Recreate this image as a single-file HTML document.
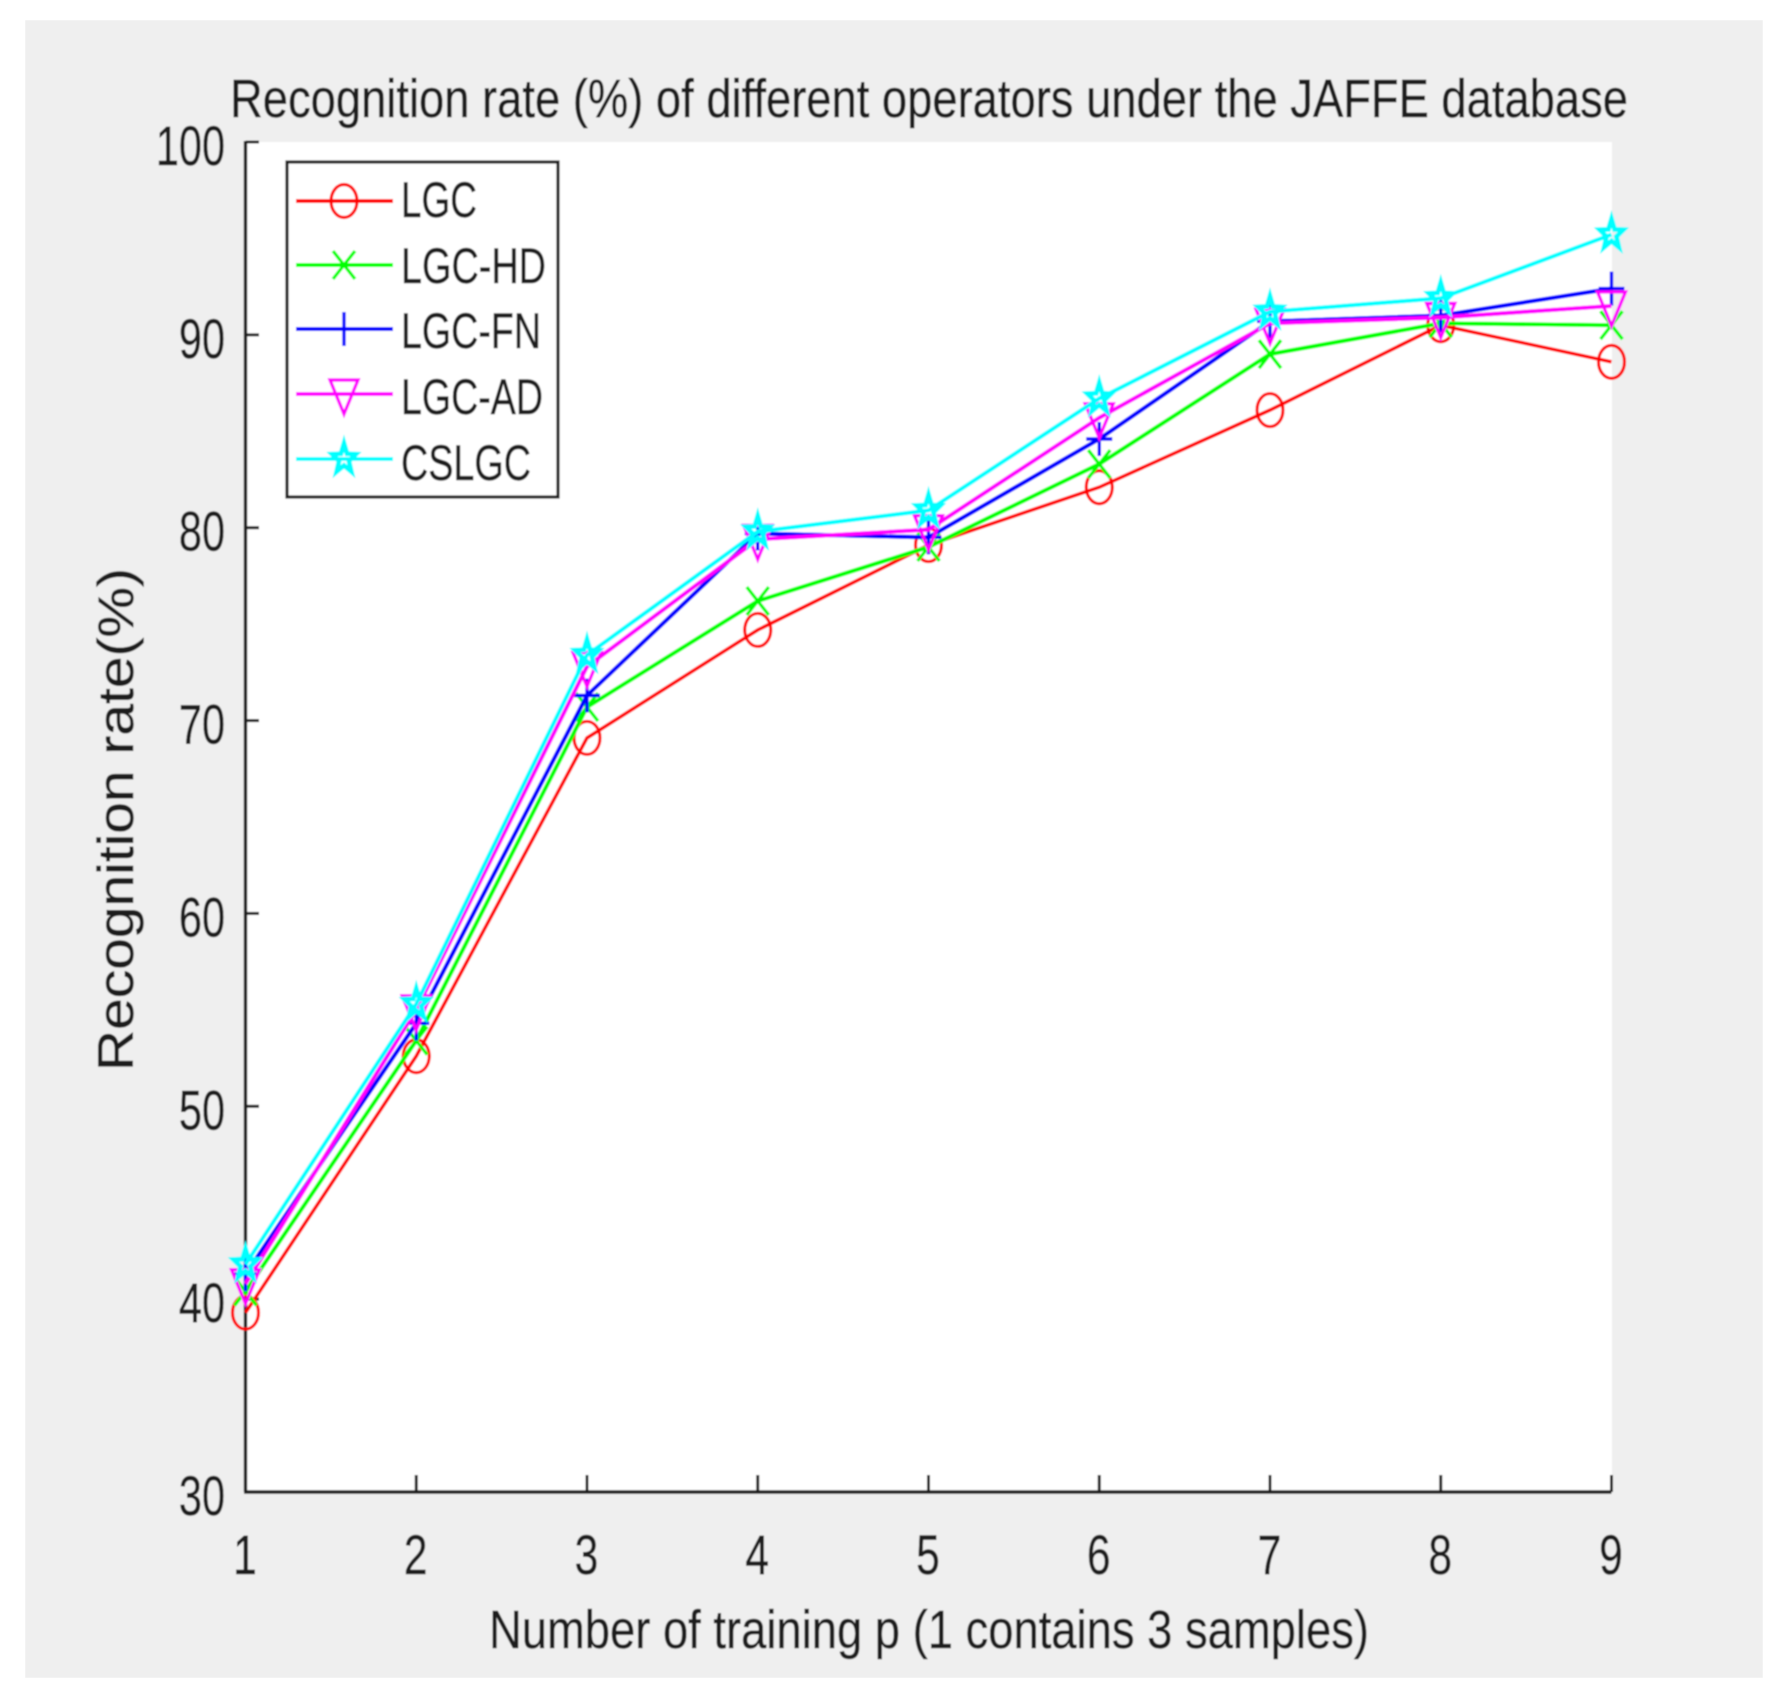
<!DOCTYPE html>
<html lang="en">
<head>
<meta charset="utf-8">
<title>Recognition rate chart</title>
<style>
html,body{margin:0;padding:0;background:#fff;width:1782px;height:1701px;overflow:hidden}
svg{display:block}
text{font-family:"Liberation Sans",Arial,sans-serif;fill:#1f1f1f;stroke:#1f1f1f;stroke-width:0.5px}
</style>
</head>
<body>
<svg id="chart" xmlns="http://www.w3.org/2000/svg" width="1782" height="1701" viewBox="0 0 1782 1701">
  <defs><filter id="soft" x="0" y="0" width="100%" height="100%" filterUnits="objectBoundingBox"><feGaussianBlur stdDeviation="0.8"/></filter></defs>
  <rect x="0" y="0" width="1782" height="1701" fill="#ffffff"/>
  <g id="root" filter="url(#soft)">
    <rect x="25" y="20" width="1738" height="1658" fill="#efefef"/>
    <rect x="245" y="142" width="1367" height="1350" fill="#ffffff"/>
    <text x="230" y="117" font-size="54" textLength="1398" lengthAdjust="spacingAndGlyphs">Recognition rate (%) of different operators under the JAFFE database</text>
    <text x="489" y="1648" font-size="54" textLength="880" lengthAdjust="spacingAndGlyphs">Number of training p (1 contains 3 samples)</text>
    <text transform="translate(133,1071) rotate(-90)" font-size="50" textLength="503" lengthAdjust="spacingAndGlyphs">Recognition rate(%)</text>
    <g id="axes"></g>
    <g id="series"></g>
    <g id="legend"></g>
  </g>
</svg>
<script>
var categories = [1, 2, 3, 4, 5, 6, 7, 8, 9];
var yTicks = [30, 40, 50, 60, 70, 80, 90, 100];
var seriesNames = ["LGC", "LGC-HD", "LGC-FN", "LGC-AD", "CSLGC"];
var lgc    = [39.3, 52.6, 69.1, 74.7, 79.1, 82.1, 86.1, 90.5, 88.6];
var lgcHd  = [40.4, 53.4, 70.7, 76.2, 79.0, 83.3, 89.0, 90.6, 90.5];
var lgcFn  = [41.3, 54.3, 71.3, 79.7, 79.5, 84.6, 90.7, 91.0, 92.4];
var lgcAd  = [40.8, 55.0, 72.8, 79.4, 79.9, 85.7, 90.6, 90.9, 91.5];
var cslgc  = [41.8, 55.3, 73.4, 79.8, 80.9, 86.7, 91.2, 91.9, 95.2];

var NS = "http://www.w3.org/2000/svg";
var seriesValues = [lgc, lgcHd, lgcFn, lgcAd, cslgc];
var seriesColors = ["#ff0000", "#00ff00", "#0000ff", "#ff00ff", "#00ffff"];
var seriesKinds = ["circle", "cross", "plus", "triangle", "star"];
var plot = {left: 245.5, right: 1611.5, top: 142, bottom: 1492};

function xScale(p) {
  var first = categories[0], last = categories[categories.length - 1];
  return plot.left + (p - first) / (last - first) * (plot.right - plot.left);
}
function yScale(v) {
  return plot.bottom - (v - 30) / 70 * (plot.bottom - plot.top);
}
function make(tag, attrs, parent) {
  var node = document.createElementNS(NS, tag);
  for (var k in attrs) node.setAttribute(k, attrs[k]);
  parent.appendChild(node);
  return node;
}
function markerPath(kind, x, y) {
  if (kind === "cross") {
    return "M" + (x - 11) + " " + (y - 14) + "L" + (x + 11) + " " + (y + 14) +
           "M" + (x - 11) + " " + (y + 14) + "L" + (x + 11) + " " + (y - 14);
  }
  if (kind === "plus") {
    return "M" + (x - 13) + " " + y + "L" + (x + 13) + " " + y +
           "M" + x + " " + (y - 17) + "L" + x + " " + (y + 17);
  }
  if (kind === "triangle") {
    return "M" + (x - 14) + " " + (y - 14) + "L" + (x + 14) + " " + (y - 14) + "L" + x + " " + (y + 20) + "Z";
  }
  var d = "";
  for (var i = 0; i < 10; i++) {
    var r = i % 2 === 0 ? 12.5 : 5.2;
    var a = -Math.PI / 2 + i * Math.PI / 5;
    d += (i === 0 ? "M" : "L") + (x + r * Math.cos(a)).toFixed(2) + " " + (y + 1.25 * r * Math.sin(a)).toFixed(2);
  }
  return d + "Z";
}
function drawMarker(kind, color, x, y, parent) {
  var m;
  if (kind === "circle") {
    m = make("ellipse", {cx: x, cy: y, rx: 13, ry: 16.5, fill: "none", stroke: color, "stroke-width": 3.2}, parent);
  } else {
    m = make("path", {d: markerPath(kind, x, y), fill: "none", stroke: color, "stroke-width": kind === "star" ? 5 : 3.4}, parent);
  }
  return m;
}

var axes = document.getElementById("axes");
var axisColor = "#1f1f1f";

var yAxisLine = make("line", {x1: plot.left, y1: plot.top - 1, x2: plot.left, y2: plot.bottom, stroke: axisColor, "stroke-width": 3.4}, axes);


var xAxisLine = make("line", {x1: plot.left - 1.5, y1: plot.bottom, x2: plot.right, y2: plot.bottom, stroke: axisColor, "stroke-width": 3.4}, axes);



yTicks.forEach(function (t) {
  var y = yScale(t);
  if (t !== 30) {
    var tick = make("line", {x1: plot.left, y1: y, x2: plot.left + 13.5, y2: y, stroke: axisColor, "stroke-width": 3}, axes);
    
    
  }
  var label = make("text", {transform: "translate(225," + (y + 23) + ") scale(0.74,1)", "font-size": 56, "text-anchor": "end"}, axes);
  label.textContent = String(t);
  
  
});

categories.forEach(function (c) {
  var x = xScale(c);
  if (c !== categories[0]) {
    var tick = make("line", {x1: x, y1: plot.bottom, x2: x, y2: plot.bottom - 17, stroke: axisColor, "stroke-width": 3}, axes);
    
    
  }
  var label = make("text", {transform: "translate(" + (x - 0.5) + ",1574) scale(0.76,1)", "font-size": 56, "text-anchor": "middle"}, axes);
  label.textContent = String(c);
  
  
});

var seriesRoot = document.getElementById("series");
seriesValues.forEach(function (values, s) {
  var group = make("g", {}, seriesRoot);
  
  
  var pts = values.map(function (v, i) {
    return xScale(categories[i]).toFixed(2) + "," + yScale(v).toFixed(2);
  }).join(" ");
  var line = make("polyline", {points: pts, fill: "none", stroke: seriesColors[s], "stroke-width": s === 0 ? 3.6 : 4.2}, group);
  
  
  values.forEach(function (v, i) {
    var marker = drawMarker(seriesKinds[s], seriesColors[s], xScale(categories[i]), yScale(v), group);
    
    
  });
});

var legend = document.getElementById("legend");
var legendBox = make("rect", {x: 287, y: 162, width: 271, height: 335, fill: "#ffffff", stroke: axisColor, "stroke-width": 3.2}, legend);


var legendLineY = [201, 265, 329, 394, 459];
var legendBaseY = [217, 283, 348, 414, 480];
var legendWidths = [76, 145, 140, 142, 130];
seriesNames.forEach(function (name, s) {
  var entry = make("g", {}, legend);
  
  
  var key = make("line", {x1: 296, y1: legendLineY[s], x2: 393, y2: legendLineY[s], stroke: seriesColors[s], "stroke-width": 4}, entry);
  
  
  var mark = drawMarker(seriesKinds[s], seriesColors[s], 344, legendLineY[s], entry);
  
  
  var label = make("text", {x: 401, y: legendBaseY[s], "font-size": 50, textLength: legendWidths[s], lengthAdjust: "spacingAndGlyphs"}, entry);
  label.textContent = name;
  
  
});
</script>
</body>
</html>
